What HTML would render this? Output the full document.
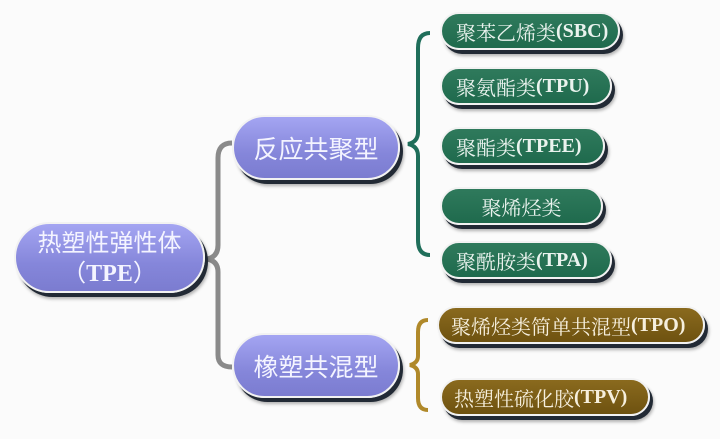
<!DOCTYPE html>
<html><head><meta charset="utf-8"><style>
body{margin:0;width:720px;height:439px;background:#fbfbfb;position:relative;overflow:hidden;font-family:"Liberation Serif","Noto Serif CJK SC",serif}
.p{position:absolute;border-radius:40px;color:#f4f4ff;display:flex;align-items:center;justify-content:center;box-shadow:3px 4px 0 #222a35,4px 6px 3px rgba(0,0,0,.3);border:2px solid #f2f2f2;box-sizing:border-box;white-space:nowrap}
.pu{background:linear-gradient(#a4a5f2,#8586da 60%,#7b7cd0);font-size:25px;font-family:"Noto Sans CJK SC",sans-serif}
.g{background:linear-gradient(#2f7a5c,#1f6a4d);font-size:20px;justify-content:flex-start;padding-left:14px;color:#eaf3ee}
.o{background:linear-gradient(#8a6a1e,#6e5210);font-size:20px;justify-content:flex-start;padding-left:12px;color:#f6efdd}
b{font-family:"Liberation Serif",serif;font-weight:bold}
</style></head><body>
<svg width="720" height="439" style="position:absolute;left:0;top:0">
<path d="M232 143 Q218 143 218 158 L218 245 Q218 257 207 259 Q218 261 218 272 L218 355 Q218 367 232 367" fill="none" stroke="#8a8a8a" stroke-width="5"/>
<path d="M430 33 Q418 33 418 48 L418 132 Q418 142 408 144 Q418 146 418 156 L418 240 Q418 255 430 255" fill="none" stroke="#1f6e5a" stroke-width="4"/>
<path d="M428 320 Q418 320 418 332 L418 356 Q418 363 410 365 Q418 367 418 374 L418 398 Q418 410 428 410" fill="none" stroke="#b0892a" stroke-width="4"/>
</svg>
<div class="p pu" style="left:14px;top:222px;width:191px;height:71px;flex-direction:column;line-height:30px;font-size:24px"><div>热塑性弹性体</div><div>（<b>TPE</b>）</div></div>
<div class="p pu" style="left:232px;top:115px;width:168px;height:65px">反应共聚型</div>
<div class="p pu" style="left:232px;top:333px;width:168px;height:65px">橡塑共混型</div>
<div class="p g" style="left:440px;top:12px;width:180px;height:38px">聚苯乙烯类<b>(SBC)</b></div>
<div class="p g" style="left:440px;top:67px;width:172px;height:38px">聚氨酯类<b>(TPU)</b></div>
<div class="p g" style="left:440px;top:127px;width:165px;height:38px">聚酯类<b>(TPEE)</b></div>
<div class="p g" style="left:440px;top:187px;width:163px;height:38px;justify-content:center;padding:0">聚烯烃类</div>
<div class="p g" style="left:440px;top:241px;width:172px;height:38px">聚酰胺类<b>(TPA)</b></div>
<div class="p o" style="left:437px;top:306px;width:268px;height:38px">聚烯烃类简单共混型<b>(TPO)</b></div>
<div class="p o" style="left:440px;top:378px;width:210px;height:38px">热塑性硫化胶<b>(TPV)</b></div>
</body></html>
